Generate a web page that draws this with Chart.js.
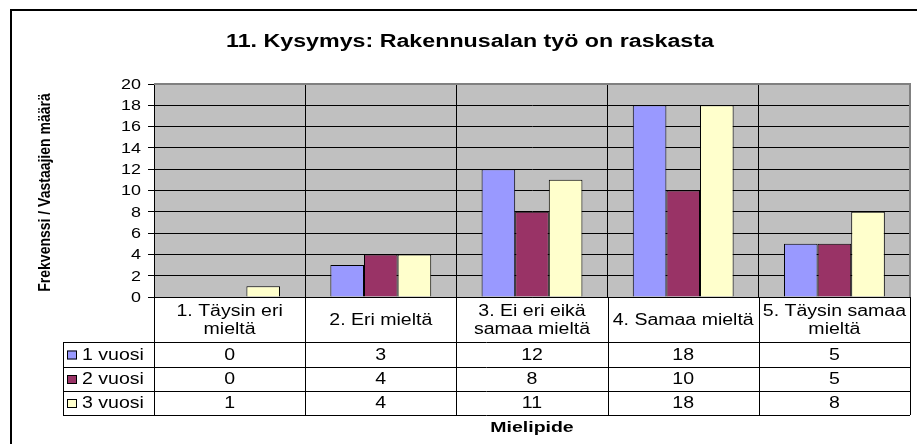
<!DOCTYPE html>
<html>
<head>
<meta charset="utf-8">
<script src="https://cdn.jsdelivr.net/npm/chart.js@4/dist/chart.umd.min.js"></script>
<style>
  html, body { margin: 0; padding: 0; background: #fff; }
</style>
</head>
<body>
<canvas id="chart" width="917" height="444"></canvas>
<script>
// categories (table header) and series
const categories = [
  ["1. Täysin eri", "mieltä"],
  ["2. Eri mieltä"],
  ["3. Ei eri eikä", "samaa mieltä"],
  ["4. Samaa mieltä"],
  ["5. Täysin samaa", "mieltä"]
];
const seriesNames = ["1 vuosi", "2 vuosi", "3 vuosi"];
const vuosi1 = [0, 3, 12, 18, 5];
const vuosi2 = [0, 4, 8, 10, 5];
const vuosi3 = [1, 4, 11, 18, 8];
const seriesColors = ["#9999FF", "#993366", "#FFFFCC"];
const yMax = 20;
const yStep = 2;

const titleText = "11. Kysymys: Rakennusalan työ on raskasta";
const yTitle = "Frekvenssi / Vastaajien määrä";
const xTitle = "Mielipide";

const FONT = "'Liberation Sans', Arial, sans-serif";

// the original picture is a bit wider than tall, so text is drawn stretched
function wideText(ctx, text, x, y, align, sx) {
  ctx.save();
  ctx.translate(x, y);
  ctx.scale(sx, 1);
  ctx.textAlign = align;
  ctx.fillText(text, 0, 0);
  ctx.restore();
}

// frame, plot background, title, axis titles and y tick labels
const decoPlugin = {
  id: 'deco',
  beforeDraw(chart) {
    const ctx = chart.ctx;
    const a = chart.chartArea;
    ctx.save();
    ctx.fillStyle = '#fff';
    ctx.fillRect(0, 0, chart.width, chart.height);
    ctx.fillStyle = '#C0C0C0';
    ctx.fillRect(a.left, a.top, a.right - a.left, a.bottom - a.top);
    ctx.strokeStyle = '#000';
    ctx.lineWidth = 2;
    ctx.strokeRect(11, 10, 930, 460);
    ctx.restore();
  },
  afterDraw(chart) {
    const ctx = chart.ctx;
    const a = chart.chartArea;
    const ys = chart.scales.y;
    ctx.save();
    // grey plot edge top/right
    ctx.strokeStyle = '#808080';
    ctx.lineWidth = 2;
    ctx.beginPath();
    ctx.moveTo(a.left, a.top);
    ctx.lineTo(a.right, a.top);
    ctx.lineTo(a.right, a.bottom);
    ctx.stroke();

    ctx.fillStyle = '#000';
    ctx.textBaseline = 'middle';

    // y tick labels
    ctx.font = '14px ' + FONT;
    ys.ticks.forEach(t => {
      wideText(ctx, String(t.value), a.left - 13, ys.getPixelForValue(t.value) + 1, 'right', 1.28);
    });

    ctx.font = 'bold 18px ' + FONT;
    wideText(ctx, titleText, 470, 42, 'center', 1.29);

    ctx.font = 'bold 15px ' + FONT;
    wideText(ctx, xTitle, (a.left + a.right) / 2, 428, 'center', 1.3);

    ctx.font = 'bold 14px ' + FONT;
    ctx.translate(45, (a.top + a.bottom) / 2 + 2);
    ctx.scale(1.2, 1);
    ctx.rotate(-Math.PI / 2);
    ctx.textAlign = 'center';
    ctx.fillText(yTitle, 0, 0);
    ctx.restore();
  }
};

// data table under the plot
const tablePlugin = {
  id: 'dataTable',
  afterDraw(chart) {
    const ctx = chart.ctx;
    const a = chart.chartArea;
    const xs = chart.scales.x;
    const half = (xs.getPixelForValue(1) - xs.getPixelForValue(0)) / 2;
    const rows = [a.bottom, 342, 367, 391, 415];
    const legendLeft = 63;
    const sx = 1.22;

    ctx.save();
    ctx.strokeStyle = '#000';
    ctx.lineWidth = 1;
    ctx.beginPath();
    ctx.moveTo(a.left + 0.5, rows[0]);
    ctx.lineTo(a.left + 0.5, rows[4]);
    for (let i = 0; i < categories.length; i++) {
      const r = Math.round(xs.getPixelForValue(i) + half) + 0.5;
      ctx.moveTo(r, rows[0]);
      ctx.lineTo(r, rows[4]);
    }
    for (let k = 1; k < rows.length; k++) {
      ctx.moveTo(legendLeft, rows[k] + 0.5);
      ctx.lineTo(a.right, rows[k] + 0.5);
    }
    ctx.moveTo(legendLeft + 0.5, rows[1]);
    ctx.lineTo(legendLeft + 0.5, rows[4]);
    ctx.stroke();

    ctx.fillStyle = '#000';
    ctx.font = '16px ' + FONT;
    ctx.textBaseline = 'middle';
    const hMid = (rows[0] + rows[1]) / 2;
    categories.forEach((lines, i) => {
      const cx = xs.getPixelForValue(i);
      const lh = 17.5;
      lines.forEach((t, j) => {
        wideText(ctx, t, cx, hMid + (j - (lines.length - 1) / 2) * lh + 1, 'center', sx);
      });
    });

    chart.data.datasets.forEach((ds, k) => {
      const cy = (rows[k + 1] + rows[k + 2]) / 2 + 1;
      ds.data.forEach((v, i) => {
        wideText(ctx, String(v), xs.getPixelForValue(i), cy, 'center', sx);
      });
      // legend key
      ctx.fillStyle = ds.backgroundColor;
      ctx.fillRect(67, cy - 5, 10, 9);
      ctx.strokeStyle = '#000';
      ctx.strokeRect(67.5, cy - 4.5, 9, 8);
      ctx.fillStyle = '#000';
      wideText(ctx, ds.label, 82, cy, 'left', sx);
    });
    ctx.restore();
  }
};

new Chart(document.getElementById('chart'), {
  type: 'bar',
  data: {
    labels: categories,
    datasets: [
      { label: seriesNames[0], data: vuosi1, backgroundColor: seriesColors[0] },
      { label: seriesNames[1], data: vuosi2, backgroundColor: seriesColors[1] },
      { label: seriesNames[2], data: vuosi3, backgroundColor: seriesColors[2] }
    ]
  },
  options: {
    responsive: false,
    animation: false,
    devicePixelRatio: 1,
    layout: { padding: { left: 0, top: 84, right: 7, bottom: 0 } },
    datasets: {
      bar: {
        borderColor: '#000',
        borderWidth: 1,
        barPercentage: 1.0,
        categoryPercentage: 0.667
      }
    },
    plugins: {
      legend: { display: false },
      title: { display: false },
      tooltip: { enabled: false }
    },
    scales: {
      x: {
        offset: true,
        ticks: { display: false },
        grid: { color: '#000', drawTicks: false, offset: true },
        border: { color: '#000' },
        afterFit(s) { s.height = 444 - 297; }
      },
      y: {
        min: 0,
        max: yMax,
        ticks: { stepSize: yStep, display: false },
        grid: { color: '#000', tickLength: 6, tickColor: '#000' },
        border: { color: '#000' },
        afterFit(s) { s.width = 154; }
      }
    }
  },
  plugins: [decoPlugin, tablePlugin]
});
</script>
</body>
</html>
